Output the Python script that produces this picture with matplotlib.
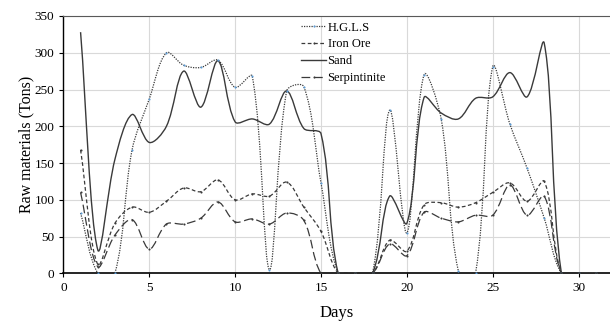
import numpy as np
from matplotlib import pyplot as plt
from matplotlib.path import Path
from matplotlib.patches import PathPatch
from matplotlib.lines import Line2D

plt.rcParams['font.family'] = ['Liberation Serif', 'DejaVu Serif']

days = list(range(1, 32))
hgls = [82, 0, 0, 168, 237, 300, 283, 280, 290, 253, 268, 5, 248, 254, 123, 0,
        0, 0, 222, 55, 270, 210, 3, 0, 281, 203, 143, 75, 0, 0, 0]
iron_ore = [168, 12, 68, 90, 83, 98, 116, 111, 127, 100, 108, 105, 124, 90, 57, 0,
            0, 0, 45, 30, 93, 96, 90, 96, 110, 123, 98, 125, 0, 0, 0]
sand = [328, 32, 155, 216, 178, 200, 275, 226, 289, 206, 210, 203, 248, 197, 190, 0,
        0, 0, 105, 68, 239, 218, 210, 238, 240, 273, 240, 313, 0, 0, 0]
serpintinite = [110, 9, 52, 73, 33, 67, 67, 75, 97, 70, 74, 67, 82, 72, 0, 0,
                0, 0, 40, 24, 83, 75, 70, 79, 79, 120, 79, 105, 0, 0, 0]


def smooth_path(ax, x, y, t=1/3.):
    # smoothed line like excel: bezier segments, tangents weighted by
    # the on-screen length of the neighbouring segments
    pts = np.column_stack([x, y]).astype(float)
    scr = ax.transData.transform(pts)
    n = len(pts)
    cin = [None] * n
    cout = [None] * n
    for i in range(n):
        a = max(i - 1, 0)
        b = min(i + 1, n - 1)
        d0 = np.hypot(*(scr[i] - scr[a]))
        d1 = np.hypot(*(scr[b] - scr[i]))
        tot = d0 + d1
        if tot == 0:
            cin[i] = cout[i] = pts[i]
            continue
        tan = pts[b] - pts[a]
        cin[i] = pts[i] - tan * t * d0 / tot
        cout[i] = pts[i] + tan * t * d1 / tot
    verts = [pts[0]]
    codes = [Path.MOVETO]
    for i in range(n - 1):
        verts += [cout[i], cin[i + 1], pts[i + 1]]
        codes += [Path.CURVE4] * 3
    return Path(verts, codes)


fig = plt.figure(figsize=(6.1, 3.22), dpi=100)
ax = fig.add_axes([63.4 / 610, 1 - 273.3 / 322, 1 - 63.4 / 610, (273.3 - 16) / 322])
ax.set_xlim(0, 31.83)
ax.set_ylim(0, 350)

col = '#3a3a3a'
series = [
    ("H.G.L.S", hgls, (0, (1, 1)), 0.9, '#5b9bd5'),
    ("Iron Ore", iron_ore, (0, (3, 2)), 0.9, col),
    ("Sand", sand, '-', 1.0, None),
    ("Serpintinite", serpintinite, (0, (7, 3)), 0.9, col),
]

handles = []
for name, vals, ls, lw, mcol in series:
    p = PathPatch(smooth_path(ax, days, vals), fill=False, edgecolor=col,
                  linestyle=ls, linewidth=lw, zorder=3)
    ax.add_patch(p)
    if mcol is not None:
        ax.plot(days, vals, linestyle='none', marker='o', markersize=1.5,
                color=mcol, markeredgewidth=0, zorder=4)
    handles.append(Line2D([], [], color=col, linestyle=ls, linewidth=lw,
                          marker='o' if mcol else None, markersize=1.5,
                          markerfacecolor=mcol, markeredgewidth=0))

ax.set_xticks(range(0, 31, 5))
ax.set_yticks(range(0, 351, 50))
ax.grid(True, color='#d9d9d9', linewidth=0.8)
ax.set_axisbelow(True)
ax.tick_params(labelsize=9.5, length=3, width=0.8, color='black')
ax.spines['right'].set_visible(False)
ax.spines['top'].set_color('#595959')
ax.spines['left'].set_linewidth(1.0)
ax.spines['bottom'].set_linewidth(1.2)

ax.set_xlabel("Days", fontsize=12, labelpad=8)
ax.set_ylabel("Raw materials (Tons)", fontsize=11.5, labelpad=0)

leg = ax.legend(handles, [s[0] for s in series], loc='upper left',
                bbox_to_anchor=(0.425, 1.0), frameon=False, fontsize=9,
                handlelength=2.0, handletextpad=0.1, labelspacing=0.38,
                borderaxespad=0.05)

fig.savefig("out.png", dpi=100)
